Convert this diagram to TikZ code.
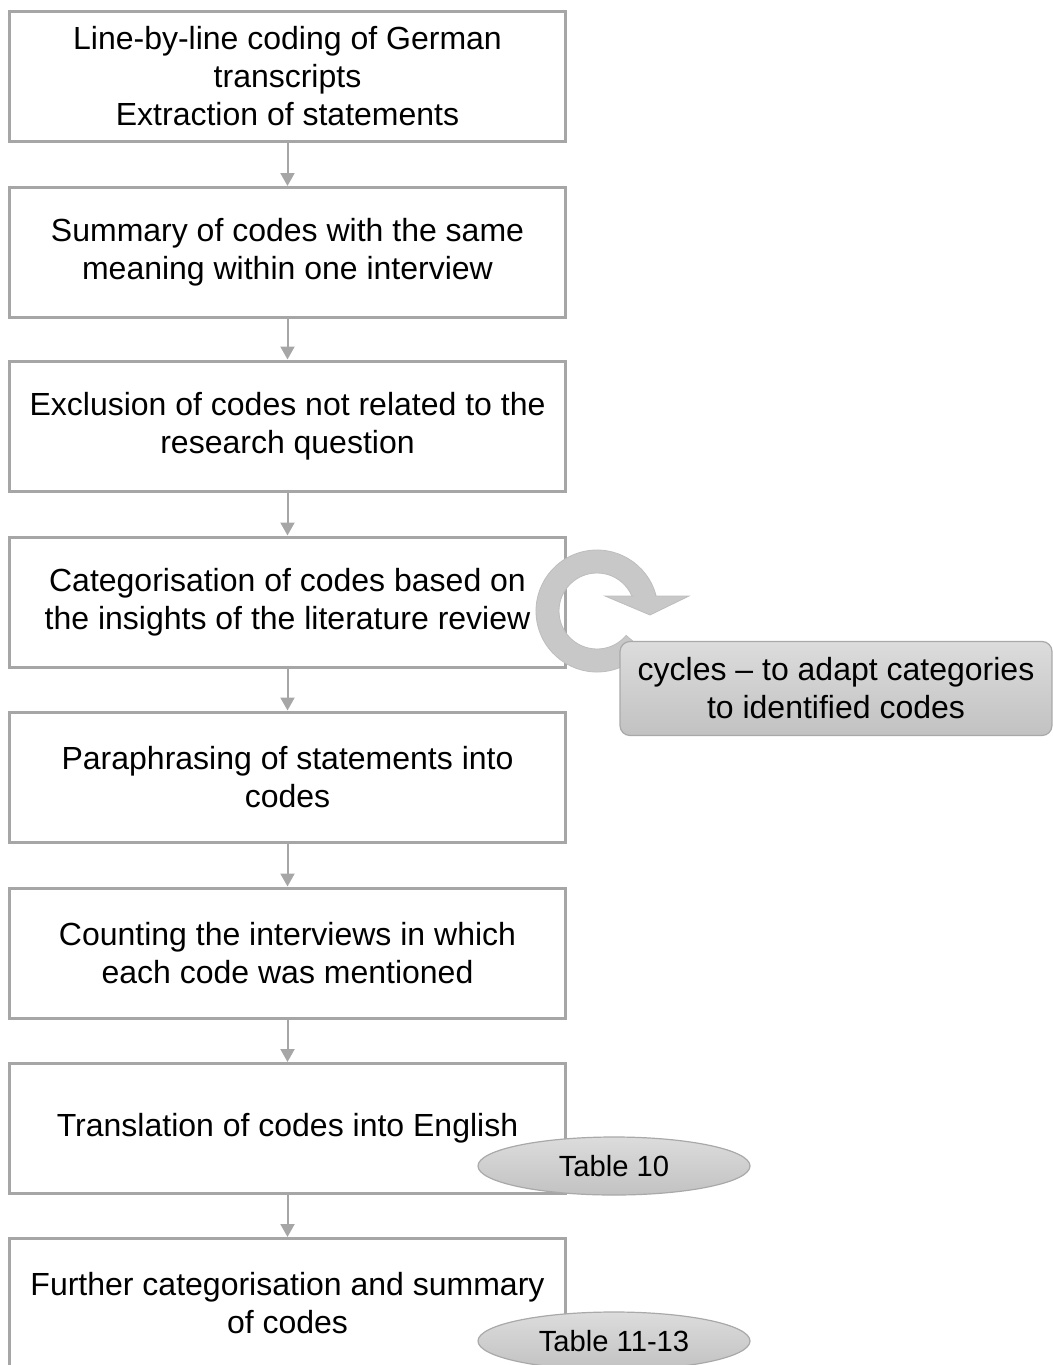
\documentclass[tikz,border=0pt]{standalone}
\usepackage{fontspec}
\setmainfont{Liberation Sans}
\usetikzlibrary{arrows.meta,shapes.geometric}
\definecolor{boxline}{HTML}{A6A6A6}
\definecolor{ringfill}{HTML}{C8C8C8}
\definecolor{ringedge}{HTML}{BDBDBD}
\definecolor{calltop}{HTML}{DCDCDC}
\definecolor{callbot}{HTML}{C2C2C2}
\definecolor{callline}{HTML}{A9A9A9}
\begin{document}
\begin{tikzpicture}[x=0.5pt,y=-0.5pt,
  stepbox/.style={draw=boxline, line width=1.5pt, fill=white,
    minimum width=278pt, minimum height=65pt, align=center, inner sep=0pt,
    font=\fontsize{16}{19}\selectfont},
  flow/.style={draw=boxline, line width=1pt, -{Triangle[width=7pt,length=6.5pt]}},
  callout/.style={draw=callline, line width=0.6pt, rounded corners=5pt,
    top color=calltop, bottom color=callbot,
    minimum width=216pt, minimum height=47pt, align=center, inner sep=0pt,
    font=\fontsize{16}{19}\selectfont},
  tablabel/.style={ellipse, draw=callline, line width=0.6pt,
    top color=calltop, bottom color=callbot,
    minimum width=136pt, minimum height=29pt, inner sep=0pt,
    font=\fontsize{14.6}{17}\selectfont}]
\useasboundingbox (0,0) rectangle (1053,1365);

% process steps
\node[stepbox] (s1) at (287.5,76.5) {Line-by-line coding of German\\transcripts\\Extraction of statements};
\node[stepbox] (s2) at (287.5,252.5) {Summary of codes with the same\\meaning within one interview};
\node[stepbox] (s3) at (287.5,426) {Exclusion of codes not related to the\\research question};
\node[stepbox] (s4) at (287.5,602) {Categorisation of codes based on\\the insights of the literature review};
\node[stepbox] (s5) at (287.5,777) {Paraphrasing of statements into\\codes};
\node[stepbox] (s6) at (287.5,953) {Counting the interviews in which\\each code was mentioned};
\node[stepbox] (s7) at (287.5,1128.5) {Translation of codes into English};
\node[stepbox] (s8) at (287.5,1303.5) {Further categorisation and summary\\of codes};

% connectors
\foreach \a/\b in {s1/s2,s2/s3,s3/s4,s4/s5,s5/s6,s6/s7,s7/s8}
  \draw[flow] (\a.south) -- (\b.north);

% circular arrow for the iteration loop
\begin{scope}[shift={(597,611)}]
  \fill[ringfill, draw=ringedge, line width=0.4pt]
    (-14:61) arc[start angle=-14, end angle=-320, radius=61]
    -- (-320:38) arc[start angle=-320, end angle=-22, radius=38] -- cycle;
  \fill[ringfill, draw=ringedge, line width=0.4pt]
    (8,-15) -- (92,-15) -- (53,4) -- cycle;
  \fill[ringfill] (37,-14) rectangle (58,-16);
\end{scope}

\node[callout] (loop) at (836,688.5) {cycles -- to adapt categories\\to identified codes};

% table references
\node[tablabel] (t10) at (614,1166) {Table 10};
\node[tablabel] (t11) at (614,1341) {Table 11-13};
\end{tikzpicture}
\end{document}
